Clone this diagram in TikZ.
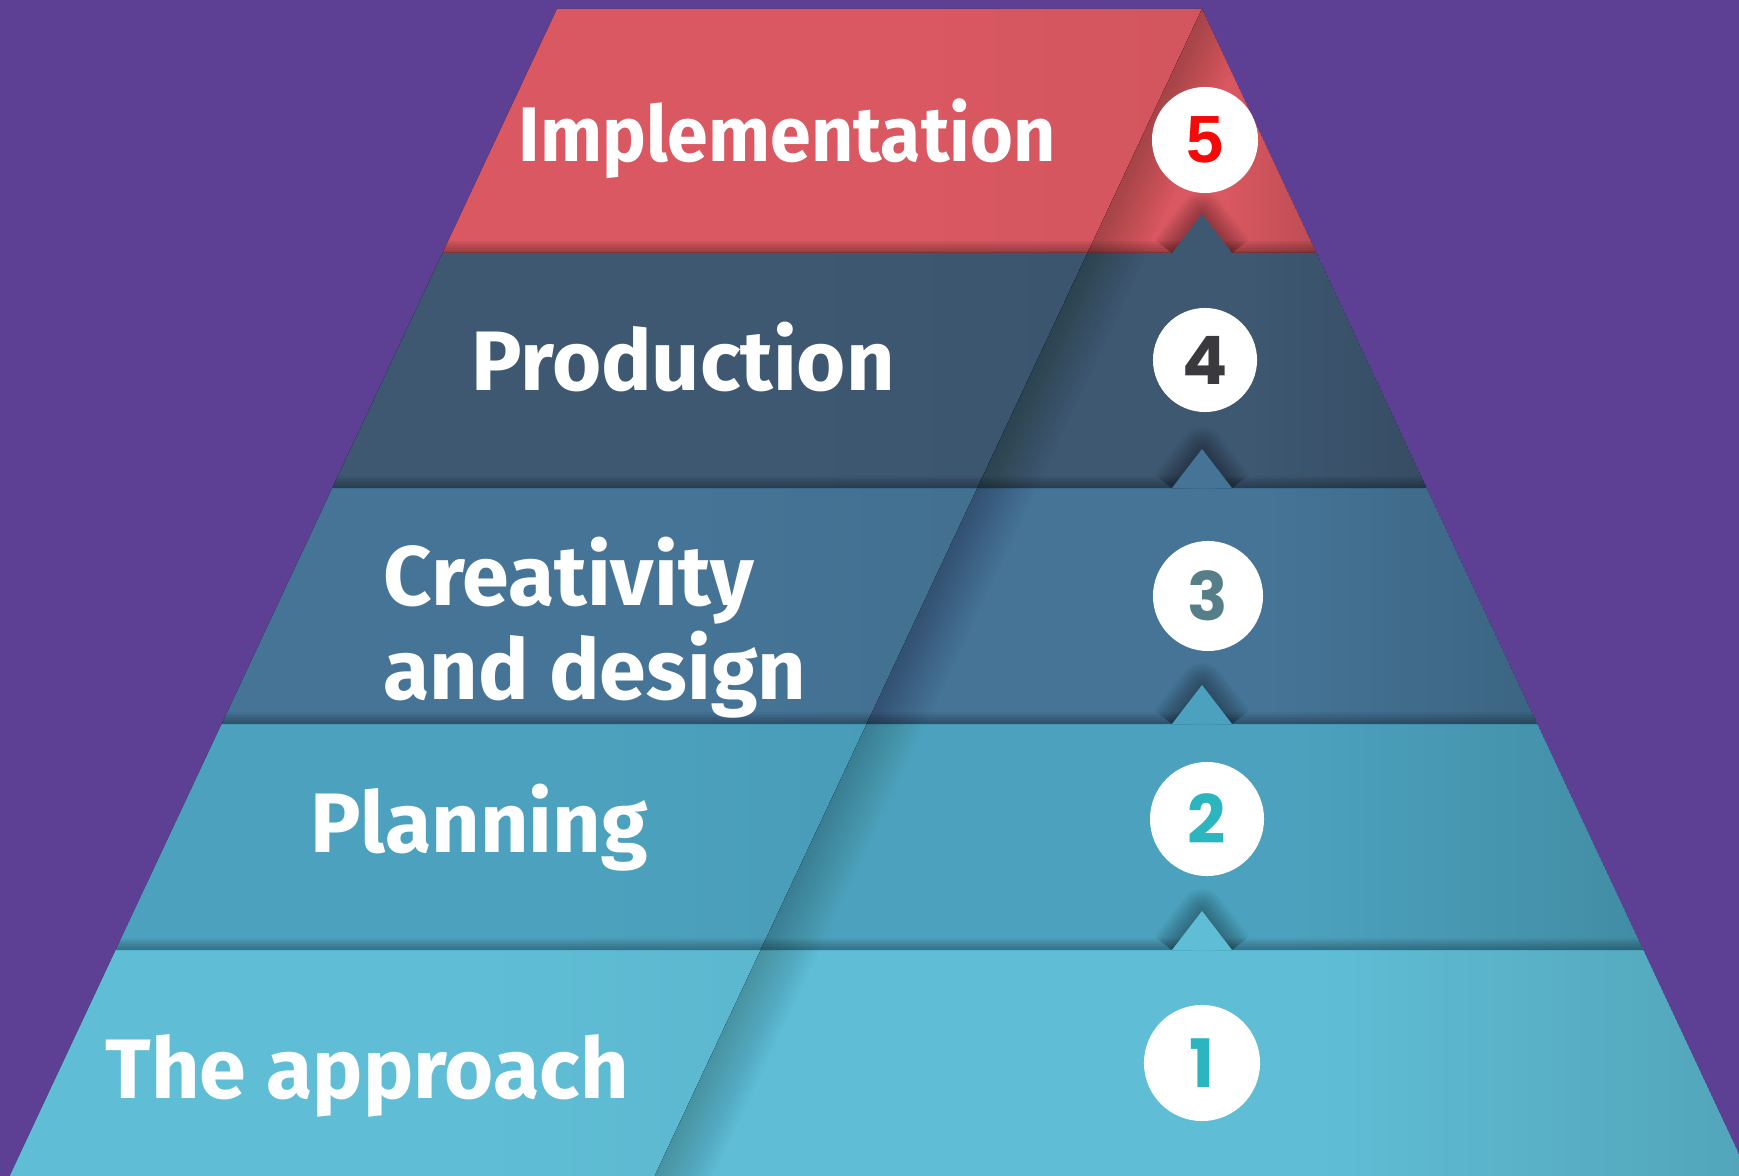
\documentclass[tikz,border=0pt]{standalone}
\usepackage{fontspec}
\newfontfamily\tierfont{Fira Sans}
\newfontfamily\tiernarrow{Fira Sans}[FakeStretch=0.95]
\newfontfamily\roundfont{Poppins}
\newfontfamily\arialfont{Liberation Sans}
\usetikzlibrary{calc}

\definecolor{bgpurple}{HTML}{5D3F94}
\definecolor{tierfive}{HTML}{DA5861}
\definecolor{tierfour}{HTML}{3E5872}
\definecolor{tierthree}{HTML}{457496}
\definecolor{tiertwo}{HTML}{4CA2BE}
\definecolor{tierone}{HTML}{5FBED6}
\definecolor{numfive}{HTML}{F50A0A}
\definecolor{numfour}{HTML}{3A3A3E}
\definecolor{numthree}{HTML}{557E88}
\definecolor{numtwo}{HTML}{2BB5BE}
\definecolor{numone}{HTML}{2BB5BE}

% side shading, colours taken when used
\pgfdeclarehorizontalshading[tiercol,tierdark]{tierside}{100bp}{color(0bp)=(tiercol); color(55bp)=(tiercol); color(100bp)=(tierdark)}

\begin{document}
\begin{tikzpicture}[
    x=0.01cm, y=-0.01cm,
    tiertext/.style={anchor=base west, inner sep=0pt, text=white, font=\tierfont\bfseries\fontsize{24}{26.7}\selectfont},
    numdisc/.style={circle, fill=white, inner sep=0pt, font=\roundfont\bfseries\fontsize{19}{19}\selectfont},
    foldshade/.style={black, opacity=0.013}
]

\fill[bgpurple] (0,0) rectangle (1739,1176);
\useasboundingbox (0,0) rectangle (1739,1176);

% corners on the left edge, the fold and the right edge, and the notches
\foreach \k/\y in {0/9,1/253,2/488,3/724,4/950,5/1176}{
  \pgfmathsetmacro\hw{322.5+0.469*(\y-9)}
  \pgfmathsetmacro\fx{1202-0.469*(\y-9)}
  \coordinate (L\k) at ({879.5-\hw},\y);
  \coordinate (R\k) at ({879.5+\hw},\y);
  \coordinate (F\k) at (\fx,\y);
  \coordinate (NA\k) at (1172,\y);
  \coordinate (NT\k) at (1202,\y-39);
  \coordinate (NB\k) at (1232,\y);
}

% tiers
\foreach \k/\col in {1/tierfive,2/tierfour,3/tierthree,4/tiertwo,5/tierone}{
  \pgfmathtruncatemacro\j{\k-1}
  \colorlet{tiercol}{\col}
  \colorlet{tierdark}{\col!92!black}
  \fill[shading=tierside] (L\j) -- (F\j) -- (F\k) -- (L\k) -- cycle;
  \colorlet{tierdark}{\col!70!black}
  \begin{scope}
    \clip (F\j) -- (R\j) -- (R\k) -- (F\k) -- cycle;
    \fill[shading=tierside] (F\j) -- (R\j) -- (R\k) -- (F\k) -- cycle;
    \foreach \w in {6,12,...,108}
      \draw[foldshade, line width=\w*0.01cm] ($(F\j)!-0.5!(F\k)$) -- ($(F\k)!-0.5!(F\j)$);
  \end{scope}
}

% shadows under each tier and the notch of the tier below
\foreach \k/\col in {1/tierfour,2/tierthree,3/tiertwo,4/tierone}{
  \pgfmathtruncatemacro\j{\k-1}
  \begin{scope}
    \clip (L\j) -- (R\j) -- (R\k) -- (L\k) -- cycle;
    \foreach \w in {3,6,...,24}
      \draw[foldshade, opacity=0.04, line width=\w*0.01cm] (L\k) -- (R\k);
    \foreach \w in {4,8,...,44}
      \draw[foldshade, opacity=0.03, line width=\w*0.01cm, line join=round] (NA\k) -- (NT\k) -- (NB\k);
  \end{scope}
  \fill[\col] (NA\k) -- (NT\k) -- (NB\k) -- cycle;
}

% numbers
\node[numdisc, minimum size=1.06cm, text=numfive, font=\arialfont\bfseries\fontsize{19}{19}\selectfont] (n5) at (1205,140) {5};
\node[numdisc, minimum size=1.04cm, text=numfour] (n4) at (1205,360) {4};
\node[numdisc, minimum size=1.10cm, text=numthree] (n3) at (1208,596) {3};
\node[numdisc, minimum size=1.14cm, text=numtwo] (n2) at (1207,819) {2};
\node[numdisc, minimum size=1.16cm, text=numone] (n1) at (1202,1063) {1};

% labels
\node[tiertext, font=\tiernarrow\bfseries\fontsize{22}{26.7}\selectfont] (implementation) at (518,162) {Implementation};
\node[tiertext] (production) at (471,390) {Production};
\node[tiertext, align=left] (creativity) at (383,699) {Creativity\\and design};
\node[tiertext] (planning) at (310,852) {Planning};
\node[tiertext] (approach) at (105,1098) {The approach};

\end{tikzpicture}
\end{document}
